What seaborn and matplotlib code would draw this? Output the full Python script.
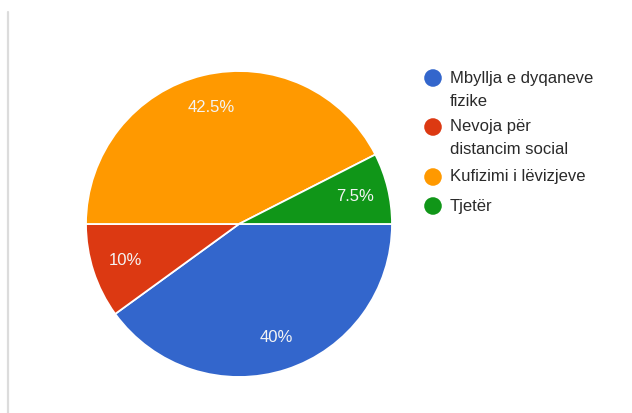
import matplotlib
matplotlib.use("Agg")
import matplotlib.pyplot as plt
import seaborn as sns
import numpy as np

categories = ["Mbyllja e dyqaneve fizike", "Nevoja për distancim social",
              "Kufizimi i lëvizjeve", "Tjetër"]
legend_lines = [["Mbyllja e dyqaneve", "fizike"],
                ["Nevoja për", "distancim social"],
                ["Kufizimi i lëvizjeve"],
                ["Tjetër"]]
shares = [40, 10, 42.5, 7.5]
pct_labels = ["40%", "10%", "42.5%", "7.5%"]
colors = ["#3366cc", "#dc3912", "#ff9900", "#109618"]

sns.set_theme(style="white")
plt.rcParams["font.family"] = ["Liberation Sans", "DejaVu Sans"]

W, H = 632, 413
fig = plt.figure(figsize=(W / 100, H / 100), dpi=100)
fig.patch.set_facecolor("white")

# pie area
cx, cy, r = 239, 224, 153
ax = fig.add_axes([(cx - r) / W, (H - cy - r) / H, 2 * r / W, 2 * r / H])
wedges, _ = ax.pie(shares, colors=colors, startangle=0, counterclock=False,
                   radius=1.0, wedgeprops=dict(edgecolor="white", linewidth=1.3))
ax.set_xlim(-1, 1)
ax.set_ylim(-1, 1)
ax.set_aspect("equal")
ax.axis("off")

start = 0.0
for share, lab in zip(shares, pct_labels):
    mid = start - share / 100 * 360 / 2
    a = np.deg2rad(mid)
    ax.text(0.78 * np.cos(a), 0.78 * np.sin(a), lab, ha="center", va="center",
            color="#f4f4f4", fontsize=12)
    start -= share / 100 * 360

# overlay in pixel coordinates for frame line and legend
ov = fig.add_axes([0, 0, 1, 1], zorder=-1)
ov.set_xlim(0, W)
ov.set_ylim(H, 0)
ov.axis("off")
ov.plot([8, 8], [12, H], color="#dcdcdc", lw=1.6)

leg = fig.add_axes([0, 0, 1, 1])
leg.set_xlim(0, W)
leg.set_ylim(H, 0)
leg.axis("off")
entry_y = [78, 127, 177, 206]
for lines, col, y in zip(legend_lines, colors, entry_y):
    leg.scatter([433], [y], s=160, color=col, edgecolor="none")
    for i, t in enumerate(lines):
        leg.text(450, y + i * 23, t, ha="left", va="center", color="#2a2a2a",
                 fontsize=12)

fig.savefig("out.png", dpi=100, facecolor="white")
